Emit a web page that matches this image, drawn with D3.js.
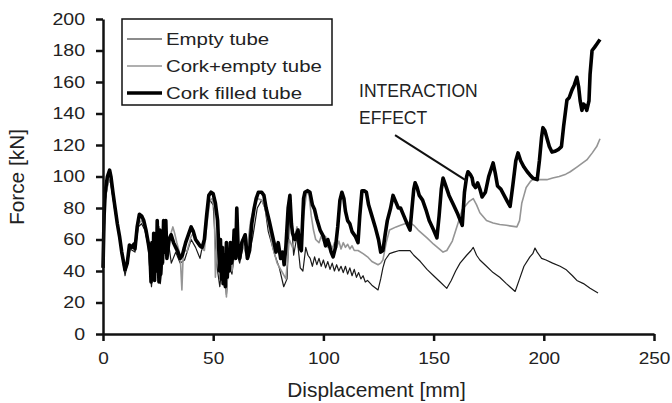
<!DOCTYPE html>
<html>
<head>
<meta charset="utf-8">
<script src="https://cdn.jsdelivr.net/npm/d3@7"></script>
<style>
  body { margin: 0; background: #fff; }
  svg { display: block; font-family: "Liberation Sans", Arial, sans-serif; }
</style>
</head>
<body>
<svg id="chart" width="672" height="403"></svg>
<script>
// series (displacement mm, force kN)
const emptyX = [0, 1, 2.5, 3.5, 5.4, 7.5, 10, 12.3, 14.5, 16, 17.5, 19, 20.5, 21, 22, 23.5, 24.2, 25, 26, 27.5, 29, 30, 31, 33, 35, 37, 40, 42, 44, 46, 47.5, 48.5, 50, 51.5, 53, 54.5, 56, 57, 58.5, 60, 62, 64, 66, 68, 70, 72, 73.5, 75, 77, 78, 80, 82, 83.5, 84.5, 85, 86.5, 88, 89.5, 90.7, 92, 93,
  94, 95, 96, 97, 98, 99, 100, 101, 102, 103, 104, 105, 106, 107, 108, 109, 110, 111, 112, 113, 114, 115, 116, 117, 118, 119, 120, 122, 124.8, 126, 127, 128, 130, 132, 134.5, 137, 139.3, 141, 144, 147, 150, 153, 156, 158, 160, 162, 165, 167, 168, 169.5, 171, 174, 177, 180, 183, 187, 189, 191, 193.7, 195, 196, 197, 199, 201, 204, 207.4, 210, 213, 215, 218, 221, 224.6];
const emptyY = [40, 85, 98, 96, 78, 60, 37, 54, 52, 68, 70, 66, 56, 45, 30, 55, 40, 68, 32, 50, 65, 55, 45, 52, 45, 47, 60, 55, 48, 62, 80, 85, 82, 45, 30, 50, 25, 45, 38, 55, 45, 58, 48, 62, 80, 85, 80, 65, 55, 50, 42, 30, 35, 70, 82, 50, 62, 42, 40, 55, 50,
  48, 43, 49, 44, 48, 43, 47, 42, 46, 41, 45, 40, 44, 40, 43, 39, 43, 38, 42, 37, 41, 36, 39, 35, 37, 33, 34, 31, 28, 35, 42, 47, 51, 52, 53, 53, 53, 50, 46, 41, 37, 33, 29, 34, 40, 45, 50, 53, 55, 50, 47, 43, 39, 36, 32, 27, 35, 43, 49, 51, 54.6, 52, 48, 47, 45, 43, 41, 37, 34, 32, 29, 26];

const corkEmptyX = [0, 1, 2.5, 3.5, 5.4, 7.5, 10, 12.3, 14.5, 16, 17.5, 19, 20.5, 21.3, 22.5, 23.5, 24.5, 25.5, 26.5, 27.5, 28.5, 30, 31.7, 32.5, 33.5, 35, 35.8, 36.5, 38, 40, 41, 42, 44, 46, 47, 48.5, 49.5, 50.5, 51, 52, 53.5, 55, 56, 57, 58.5, 60, 61.5, 63, 65, 67, 68.5, 70, 72, 73.5, 75, 77, 79, 81, 83, 84.5, 86, 88, 89, 90, 91, 92.5, 93.5, 94.5, 95.5, 96.5,
  98, 99, 100, 101, 102, 103, 104, 105, 106, 107, 108, 109, 110, 111, 112, 113, 114, 115.7, 118, 120, 122, 124.8, 126, 127, 128.5, 130, 133, 135, 139, 141, 143, 147, 150, 154.3, 156, 158.5, 161, 163, 166, 168, 169.5, 171, 174, 177, 180, 183, 187.8, 189, 190, 191, 192, 194, 195, 198, 201.4, 204, 207, 210, 212, 215, 217, 219.5, 222, 224, 225.5];
const corkEmptyY = [40, 85, 98, 96, 80, 62, 40, 55, 55, 70, 72, 68, 58, 48, 36, 58, 42, 68, 45, 62, 55, 60, 68, 64, 58, 50, 28, 55, 52, 62, 64, 60, 55, 53, 68, 85, 86, 80, 36, 65, 40, 55, 23.5, 50, 40, 60, 48, 60, 50, 72, 80, 86, 85, 80, 70, 55, 45, 40, 35, 60, 55, 68, 58, 52, 75, 91, 88, 75, 66, 60,
  58, 62, 59, 62, 55, 58, 54, 58, 55, 59, 54, 58, 55, 57, 54, 56, 53, 53, 51, 49, 46, 44, 45, 47, 58, 66, 68, 69, 71, 69, 66, 61, 57, 52, 53, 59, 70, 79, 84, 86, 82, 77, 72, 70.5, 69.5, 69, 68, 72, 83, 88, 93, 97, 98, 98, 98, 99, 100, 101.5, 103, 106, 108, 110.5, 115, 119, 124];

const filledX = [0, 0.5, 1, 2, 3, 3.6, 4.5, 5.4, 6.5, 7.5, 8.5, 10, 11, 12, 13, 14, 14.5, 15.5, 16.5, 17.5, 18.5, 19.5, 20.5, 21.3, 21.8, 22.2, 22.6, 23, 23.4, 23.8, 24.2, 24.6, 25, 25.4, 25.8, 26.2, 26.6, 27, 27.5, 28, 28.5, 29, 30, 30.9, 32, 33, 34, 35, 36, 37.5, 39, 40, 41, 42, 43, 44, 45, 46, 47, 48, 49, 50, 51, 52, 52.5, 52.9, 53.3, 53.7, 54.1, 54.5, 55, 55.5, 56, 56.4, 56.8, 57.3, 57.8, 58.3, 59, 59.5, 60.2, 60.7, 61.3, 62, 63, 64.5, 65.5, 66.5, 67.5, 68.6, 69.5, 70.5, 72, 73, 74, 75.4, 76.5, 77.6, 78.5, 79.5, 80.6, 81.5, 82.2, 83, 84, 84.8, 85.5, 86, 87, 88.5, 89.2, 90, 90.5, 91, 91.6, 92.8, 93.9, 95, 96, 97, 98.5,
  100, 101, 102, 103.5, 104.4, 105.5, 106.5, 107.5, 108.4, 109.3, 110, 111, 112, 113, 114.5, 115.7, 116.5, 117.5, 118.5, 119.5, 120.5, 122, 123.5, 125, 126, 127, 128, 129, 130.5, 131.6, 132.5, 134, 135, 136.5, 138, 139.3, 140.2, 141, 141.6, 142.5, 143.5, 145, 146.5, 148, 150, 151.5, 152.5, 153.5, 154.3, 155.3, 157, 159, 161, 163, 164, 165, 165.6, 166.8, 167.5, 168, 169, 170, 171, 172, 173.5, 175, 177, 178, 179, 180.5, 182, 183.5, 184.7, 186, 187.3, 188.3, 189.5, 191, 192.5, 193.7, 195, 197, 198, 199, 199.6, 200.5, 201.5, 202.5, 203.7, 205, 206.5, 208, 209, 210.5, 211.5, 212.8, 213.8, 215, 215.8, 216.5, 217.3, 218, 218.7, 219.5, 220.5, 221, 221.9, 223, 224, 225, 225.5];
const filledY = [42, 75, 90, 100, 104, 100, 90, 81, 70, 62, 52, 40.6, 45, 56.5, 55, 57, 54, 68, 76, 75, 72, 66, 58, 51, 33, 58, 36, 64, 34, 62, 40, 72, 50, 33, 66, 38, 60, 45, 72, 52, 72, 48, 60, 63, 58, 55, 52, 48, 50, 58, 64, 68, 65, 60, 58, 56, 55, 60, 75, 88, 90, 89, 83, 72, 55, 40, 60, 35, 55, 32, 50, 30, 58, 36, 52, 40, 58, 45, 50, 66, 48, 80, 55, 48, 58, 63, 48, 53, 70, 80, 86, 90, 90, 88, 80, 72, 65, 58, 52, 58, 48, 52, 44, 56, 80, 88, 70, 64, 60, 66, 55, 53, 70, 86, 90, 91, 90, 82, 79, 73, 66,
  62, 56, 60, 52, 49, 55, 68, 85, 90, 86, 78, 72, 70, 65, 62, 58, 75, 91, 91, 90, 82, 75, 68, 60, 52, 53, 63, 72, 80, 88, 85, 80, 80, 75, 70, 66, 80, 92, 96, 93, 88, 85, 79, 72, 66, 61, 75, 92, 99, 95, 88, 82, 76, 69, 90, 100, 103, 101, 99, 95, 93, 96, 92, 87, 90, 100, 108.6, 102, 94, 92, 88, 84, 81, 95, 110, 115, 110, 106, 103, 101, 99, 98, 110, 125, 131, 129, 124, 119, 115.5, 116, 117, 119, 132, 148.6, 150, 155, 158, 163, 157, 148, 142, 146, 145, 142, 148, 165, 180, 182, 184, 186, 187];

const seriesNames = ["Empty tube", "Cork+empty tube", "Cork filled tube"];
const xTicks = [0, 50, 100, 150, 200, 250];
const yTicks = [0, 20, 40, 60, 80, 100, 120, 140, 160, 180, 200];

const margin = {left: 103, right: 18, top: 19, bottom: 69};
const W = 672, H = 403;
const iw = W - margin.left - margin.right, ih = H - margin.top - margin.bottom;

const svg = d3.select("#chart");
const g = svg.append("g").attr("transform", `translate(${margin.left},${margin.top})`);

const x = d3.scaleLinear().domain([0, 250]).range([0, iw]);
const y = d3.scaleLinear().domain([0, 200]).range([ih, 0]);

const series = [
  {name: seriesNames[0], xs: emptyX, ys: emptyY, color: "#1a1a1a", width: 1.2},
  {name: seriesNames[1], xs: corkEmptyX, ys: corkEmptyY, color: "#959595", width: 1.6},
  {name: seriesNames[2], xs: filledX, ys: filledY, color: "#000", width: 3.6}
];

const line = d3.line().x(d => x(d[0])).y(d => y(d[1]));

g.selectAll("path.series")
  .data(series)
  .enter()
  .append("path")
  .attr("class", "series")
  .attr("fill", "none")
  .attr("stroke", d => d.color)
  .attr("stroke-width", d => d.width)
  .attr("stroke-linejoin", "round")
  .attr("d", d => line(d.xs.map((v, i) => [v, d.ys[i]])));

// axes
const xAxis = g.append("g")
  .attr("transform", `translate(0,${ih})`)
  .call(d3.axisBottom(x).tickValues(xTicks).tickSize(7).tickSizeOuter(0).tickPadding(11));
const yAxis = g.append("g")
  .call(d3.axisLeft(y).tickValues(yTicks).tickSize(7).tickSizeOuter(0).tickPadding(11));

[xAxis, yAxis].forEach(a => {
  a.select(".domain").attr("stroke", "#111").attr("stroke-width", 2.5);
  a.selectAll(".tick line").attr("stroke", "#111").attr("stroke-width", 2.5);
  a.selectAll(".tick text")
    .attr("fill", "#222")
    .style("font-size", "17px")
    .style("font-family", "'Liberation Sans', Arial, sans-serif");
});
// the original text is a bit wider than Arial, stretch it
xAxis.selectAll(".tick text").attr("transform", "scale(1.12,1)").attr("x", 0);
yAxis.selectAll(".tick text").each(function() {
  const t = d3.select(this);
  const tx = +t.attr("x");
  t.attr("x", tx / 1.15).attr("transform", "scale(1.15,1)");
});

// axis titles
svg.append("text")
  .attr("transform", `translate(${margin.left + iw / 2 - 2},397) scale(1.07,1)`)
  .attr("text-anchor", "middle")
  .attr("fill", "#222")
  .style("font-size", "19.5px")
  .text("Displacement [mm]");

svg.append("text")
  .attr("transform", "translate(24,177) rotate(-90) scale(1.07,1)")
  .attr("text-anchor", "middle")
  .attr("fill", "#222")
  .style("font-size", "19.5px")
  .text("Force [kN]");

// legend
const legend = svg.append("g");
legend.append("rect")
  .attr("x", 122).attr("y", 19).attr("width", 210).attr("height", 86)
  .attr("fill", "#fff").attr("stroke", "#111").attr("stroke-width", 1.5);

const rows = legend.selectAll("g.row")
  .data(series)
  .enter()
  .append("g")
  .attr("class", "row")
  .attr("transform", (d, i) => `translate(0,${39 + i * 27})`);

rows.append("line")
  .attr("x1", 127).attr("x2", 162)
  .attr("stroke", d => d.color)
  .attr("stroke-width", d => d.width);

rows.append("text")
  .attr("transform", "translate(166,6) scale(1.2,1)")
  .attr("fill", "#222")
  .style("font-size", "17px")
  .text(d => d.name);

// annotation
g.append("line")
  .attr("x1", x(132.5)).attr("y1", y(126.3))
  .attr("x2", x(165.2)).attr("y2", y(97.1))
  .attr("stroke", "#111").attr("stroke-width", 2);

g.selectAll("text.note")
  .data(["INTERACTION", "EFFECT"])
  .enter()
  .append("text")
  .attr("class", "note")
  .attr("x", x(116.2))
  .attr("y", (d, i) => y(150.5) + i * 27)
  .attr("fill", "#222")
  .style("font-size", "17.5px")
  .text(d => d);
</script>
</body>
</html>
